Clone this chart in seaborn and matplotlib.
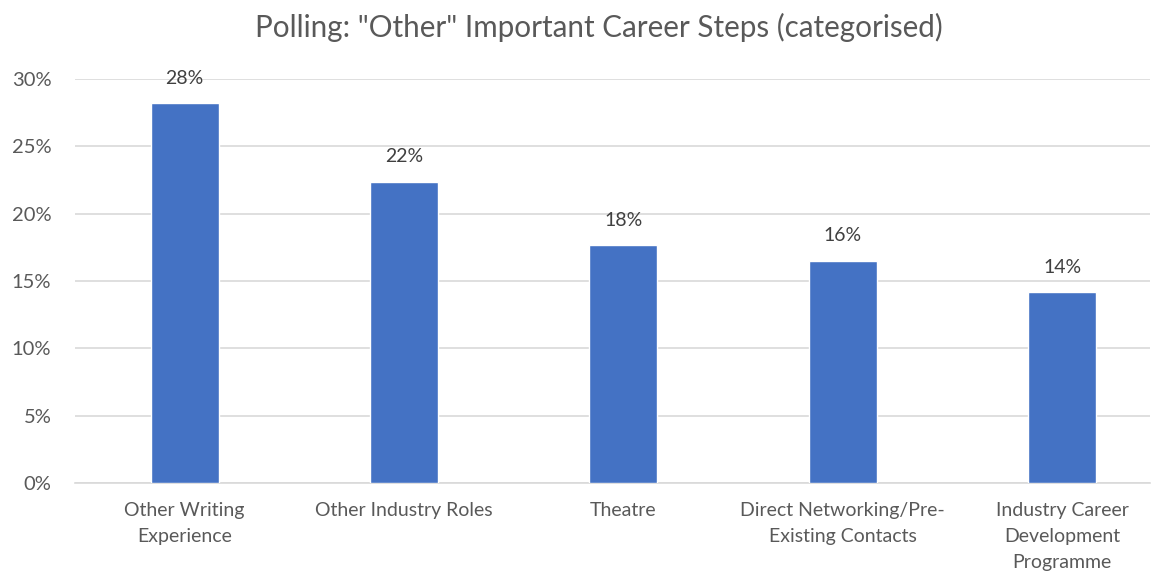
import pandas as pd
import matplotlib.pyplot as plt
import seaborn as sns

# categories and shares
categories = ["Other Writing\nExperience", "Other Industry Roles", "Theatre",
              "Direct Networking/Pre-\nExisting Contacts",
              "Industry Career\nDevelopment\nProgramme"]
shares = [28.2, 22.35, 17.65, 16.5, 14.15]
yticks = [0, 5, 10, 15, 20, 25, 30]

df = pd.DataFrame({"category": categories, "share": shares})

sns.set_style("white")
plt.rcParams['font.family'] = ['Lato', 'DejaVu Sans']
grey = "#595959"

fig = plt.figure(figsize=(11.62, 5.72), dpi=100)
ax = fig.add_axes([0.0645, 0.1556, 0.925, 0.7064])

sns.barplot(data=df, x="category", y="share", color="#4472C4", width=0.31,
            saturation=1, ax=ax, zorder=3)

# data labels above each bar
for i, v in enumerate(shares):
    ax.annotate(f"{round(v)}%", (i, v), xytext=(0, 12), textcoords="offset points",
                ha="center", va="bottom", fontsize=14, color="#404040")

ax.set_ylim(0, 30)
ax.set_xlim(-0.5, 4.4)
ax.set_yticks(yticks)
ax.set_yticklabels([f"{t}%" for t in yticks], fontsize=14.5, color=grey)
ax.tick_params(axis="x", labelsize=14, colors=grey, length=0, pad=14)
for lbl in ax.get_xticklabels():
    lbl.set_linespacing(1.62)
ax.tick_params(axis="y", length=0, pad=17)
ax.grid(axis="y", color="#D9D9D9", linewidth=1.2, zorder=0)
ax.set_xlabel("")
ax.set_ylabel("")
for s in ["top", "right", "left"]:
    ax.spines[s].set_visible(False)
ax.spines["bottom"].set_color("#D9D9D9")
ax.spines["bottom"].set_linewidth(1.2)

fig.suptitle('Polling: "Other" Important Career Steps (categorised)',
             fontsize=21.3, color=grey, x=0.515, y=0.978)

plt.savefig("out.png", dpi=100)
